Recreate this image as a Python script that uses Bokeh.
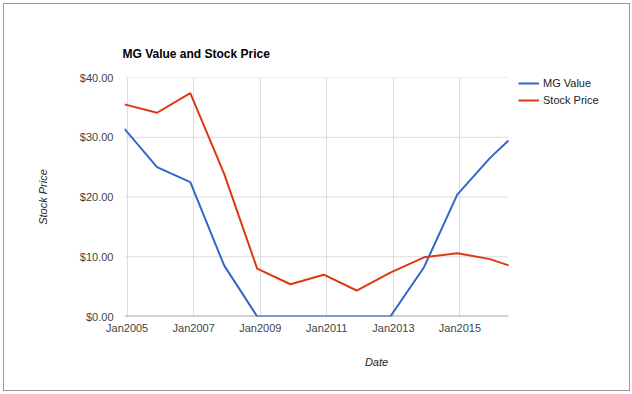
import numpy as np
from bokeh.plotting import figure
from bokeh.models import (Range1d, FixedTicker, DatetimeTickFormatter, Legend, LegendItem,
                          NumeralTickFormatter)
from bokeh.embed import file_html
from bokeh.resources import INLINE

# ---- data ----
dates = ["2004-12-03", "2005-11-25", "2006-11-25", "2007-12-01", "2008-11-28", "2009-11-28",
         "2010-11-28", "2011-11-25", "2012-11-28", "2013-12-03", "2014-12-03", "2015-11-28",
         "2016-06-17"]
mg_value = [31.4, 25.0, 22.5, 8.55, 0.0, 0.0, 0.0, 0.0, 0.0, 8.25, 20.4, 26.55, 29.45]
stock_price = [35.5, 34.1, 37.4, 23.9, 8.0, 5.4, 7.0, 4.35, 7.35, 9.9, 10.6, 9.6, 8.55]
series_names = ["MG Value", "Stock Price"]
y_ticks = [0, 10, 20, 30, 40]
x_tick_dates = ["2005-01-01", "2007-01-01", "2009-01-01", "2011-01-01", "2013-01-01", "2015-01-01"]

FONT = "Liberation Sans"
x = np.array(dates, dtype="datetime64[ms]")
xt = [float(np.datetime64(d, "ms").astype("int64")) for d in x_tick_dates]
# the plot area continues to the right of the data to hold the legend (384 px of data, 120 px legend zone)
span = x[-1] - x[0]
x_end = x[-1] + span * 120 // 384

p = figure(width=627, height=388, output_backend="svg", toolbar_location=None,
           x_axis_type="datetime", title="MG Value and Stock Price",
           x_range=Range1d(x[0], x_end), y_range=Range1d(0, 40),
           min_border_left=120, min_border_right=3, min_border_top=73, min_border_bottom=76,
           background_fill_color="white", border_fill_color="white",
           outline_line_color=None)
p.styles = {"margin-left": "3px", "margin-top": "3px", "border": "1px solid #9a9a9a"}

p.title.text_font = FONT
p.title.text_font_size = "12px"
p.title.text_font_style = "bold"
p.title.text_color = "#000000"
p.title.standoff = 34
p.title.offset = -2

# grids: vertical from the axis ticker, horizontal only across the data span
p.xgrid.ticker = FixedTicker(ticks=xt)
p.xgrid.grid_line_color = "#dcdcdc"
p.ygrid.visible = False
gy = [t for t in y_ticks if t != 0]
p.segment(x0=[x[0]] * len(gy), x1=[x[-1]] * len(gy), y0=gy, y1=gy,
          line_color="#dcdcdc", line_width=1)
# baseline at $0
p.segment(x0=[x[0]], x1=[x[-1]], y0=[0], y1=[0], line_color="#a6a6a6", line_width=2)

# axes
xa = p.xaxis[0]
xa.ticker = FixedTicker(ticks=xt)
xa.formatter = DatetimeTickFormatter(years="%b%Y", months="%b%Y", days="%b%Y", hours="%b%Y",
                                     minutes="%b%Y", seconds="%b%Y", milliseconds="%b%Y",
                                     microseconds="%b%Y", hourmin="%b%Y", minsec="%b%Y")
ya = p.yaxis[0]
ya.ticker = FixedTicker(ticks=y_ticks)
ya.formatter = NumeralTickFormatter(format="$0.00")
for a in (xa, ya):
    a.axis_line_color = None
    a.major_tick_line_color = None
    a.minor_tick_line_color = None
    a.major_tick_out = 0
    a.major_tick_in = 0
    a.major_label_text_font = FONT
    a.major_label_text_font_size = "11px"
    a.major_label_text_color = "#444444"
    a.axis_label_text_font = FONT
    a.axis_label_text_font_size = "11px"
    a.axis_label_text_font_style = "italic"
    a.axis_label_text_color = "#222222"
xa.axis_label = "Date"
ya.axis_label = "Stock Price"
xa.major_label_standoff = 5
ya.major_label_standoff = 11
xa.axis_label_standoff = 19
ya.axis_label_standoff = 28

r1 = p.line(x, mg_value, line_color="#3366cc", line_width=2)
r2 = p.line(x, stock_price, line_color="#dc3912", line_width=2)

legend = Legend(items=[LegendItem(label=series_names[0], renderers=[r1]),
                       LegendItem(label=series_names[1], renderers=[r2])],
                location=(394, 210), orientation="vertical",
                border_line_color=None, background_fill_alpha=0,
                padding=0, margin=0, spacing=5, glyph_width=21, glyph_height=12,
                label_height=12, label_standoff=4,
                label_text_font=FONT, label_text_font_size="11px", label_text_color="#222222")
p.add_layout(legend, "center")

open("out.html", "w").write(file_html(p, INLINE))
